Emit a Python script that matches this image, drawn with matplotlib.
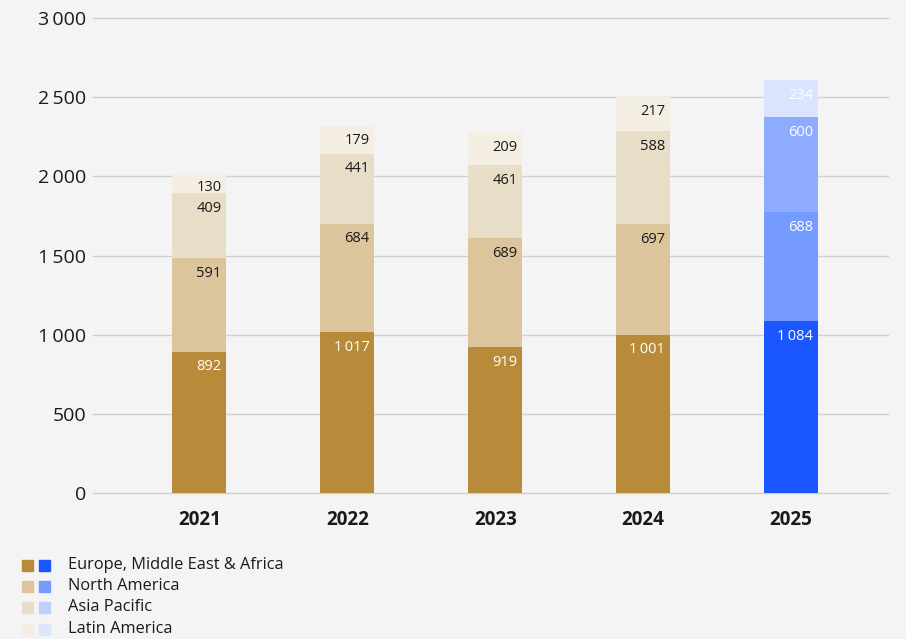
import matplotlib.pyplot as plt
from matplotlib.patches import Rectangle

plt.rcParams['font.family'] = ['Open Sans', 'DejaVu Sans']

years = ['2021', '2022', '2023', '2024', '2025']
regions = ['Europe, Middle East & Africa', 'North America', 'Asia Pacific', 'Latin America']
emea = [892, 1017, 919, 1001, 1084]
north_america = [591, 684, 689, 697, 688]
asia_pacific = [409, 441, 461, 588, 600]
latin_america = [130, 179, 209, 217, 234]

gold = ['#b88b3a', '#dcc59c', '#e8ddc6', '#f4eee3']
blue = ['#1a57ff', '#769bff', '#8eacff', '#dbe4ff']
legend_blue = ['#1a57ff', '#769bff', '#bfd0ff', '#dde6ff']
bg = '#f4f4f4'


def fmt(v):
    return f'{v:,}'.replace(',', '\u2009')


fig = plt.figure(figsize=(9.06, 6.39), dpi=100, facecolor=bg)
ax = fig.add_axes([0.1026, 0.2285, 0.8774, 0.7433])
ax.set_facecolor(bg)

series = [emea, north_america, asia_pacific, latin_america]
width = 0.365
x = list(range(len(years)))
bottoms = [0] * len(years)
for k, vals in enumerate(series):
    for i, v in enumerate(vals):
        forecast = years[i] == '2025'
        color = blue[k] if forecast else gold[k]
        ax.bar(i, v, width, bottom=bottoms[i], color=color, zorder=3)
        txt_color = 'white' if (forecast or k == 0) else '#1a1a1a'
        ax.annotate(fmt(v), (i + width / 2, bottoms[i] + v), xytext=(-3.5, -5.5),
                    textcoords='offset points', ha='right', va='top',
                    fontsize=10.5, color=txt_color, zorder=4)
    bottoms = [b + v for b, v in zip(bottoms, vals)]

ax.set_xlim(-0.72, 4.655)
ax.set_ylim(0, 3000)
ax.set_yticks(range(0, 3001, 500))
ax.set_yticklabels([fmt(t) for t in range(0, 3001, 500)], fontsize=14, color='#1a1a1a')
ax.set_xticks(x)
ax.set_xticklabels(years, fontsize=13.5, fontweight='bold', color='#1a1a1a')
ax.tick_params(axis='y', length=0, pad=5)
ax.tick_params(axis='x', length=0, pad=12.5)
ax.grid(axis='y', color='#d0d0d0', linewidth=1, zorder=0, clip_on=False)
for s in ax.spines.values():
    s.set_visible(False)

# legend: gold and blue swatch pairs
W, H = fig.get_size_inches() * fig.dpi
rows_y = [565, 586, 607, 629]
for k, name in enumerate(regions):
    yc = rows_y[k]
    for x0, c in [(22, gold[k]), (39, legend_blue[k])]:
        fig.patches.append(Rectangle((x0 / W, 1 - (yc + 5.5) / H), 11 / W, 11 / H,
                                     transform=fig.transFigure, color=c))
    fig.text(68 / W, 1 - yc / H, name, fontsize=11.8, va='center', ha='left', color='#1a1a1a')

fig.savefig('out.png', dpi=100, facecolor=bg)
